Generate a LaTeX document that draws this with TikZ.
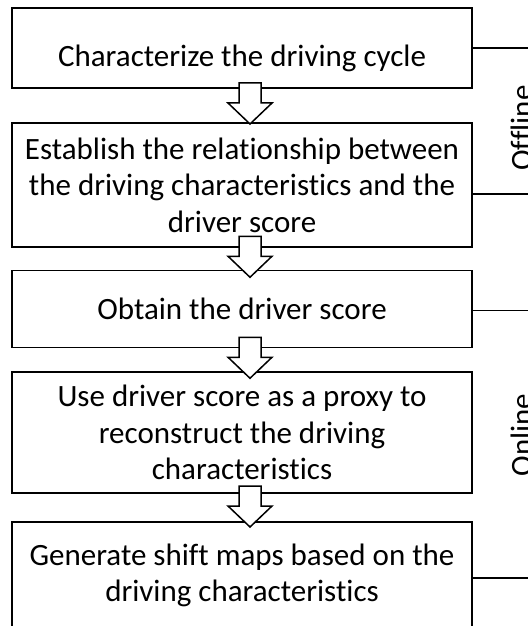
\documentclass[tikz,border=0pt]{standalone}
\usepackage{fontspec}
\setmainfont{Carlito}[Ligatures=NoCommon]
\usetikzlibrary{calc}

\tikzset{
  stepbox/.style={draw=black, line width=1.5bp, fill=white, minimum width=460bp,
    align=center, inner sep=0pt, font=\fontsize{31bp}{36.5bp}\selectfont},
  blockarrow/.style={draw=black, line width=1.5bp, fill=white, line join=miter},
  tieline/.style={draw=black, line width=1.5bp},
  phase/.style={rotate=90, anchor=base, inner sep=0pt, font=\fontsize{31bp}{36.5bp}\selectfont}
}

% hollow downward block arrow centred on a named coordinate
\newcommand\hollowdown[1]{%
  \draw[blockarrow] ($(#1)+(-11,20.5)$) -- ($(#1)+(-11,0.5)$) -- ($(#1)+(-22,0.5)$)
    -- ($(#1)+(0,-20.5)$) -- ($(#1)+(22,0.5)$) -- ($(#1)+(11,0.5)$)
    -- ($(#1)+(11,20.5)$) -- cycle;}

\begin{document}
\begin{tikzpicture}[x=1bp, y=1bp]
  \useasboundingbox (0,0) rectangle (528,-626);
  \clip (0,0) rectangle (528,-626);
  \fill[white] (0,0) rectangle (528,-626);

  % process steps
  \node[stepbox, minimum height=80bp, text height=38bp, text depth=0pt] (b1) at (242,-48)
    {Characterize the driving cycle};
  \node[stepbox, minimum height=124bp] (b2) at (242,-185)
    {Establish the relationship between\\the driving characteristics and the\\driver score};
  \node[stepbox, minimum height=77bp] (b3) at (242,-309)
    {Obtain the driver score};
  \node[stepbox, minimum height=121bp] (b4) at (242,-432.5)
    {Use driver score as a proxy to\\reconstruct the driving\\characteristics};
  \node[stepbox, minimum height=107bp] (b5) at (242,-575.5)
    {Generate shift maps based on the\\driving characteristics};

  % block arrows between consecutive steps
  \coordinate (a1) at ($(b1.south)!0.5!(b2.north)+(8,2)$);
  \coordinate (a2) at ($(b2.south)!0.5!(b3.north)+(8,2)$);
  \coordinate (a3) at ($(b3.south)!0.5!(b4.north)+(8,2)$);
  \coordinate (a4) at ($(b4.south)!0.5!(b5.north)+(8,1)$);
  \hollowdown{a1}
  \hollowdown{a2}
  \hollowdown{a3}
  \hollowdown{a4}

  % bracket lines to the phase labels
  \coordinate (r1) at (528,-48);
  \coordinate (r2) at (528,-194);
  \coordinate (r3) at (528,-310.5);
  \coordinate (r4) at (528,-578);
  \draw[tieline] (b1.east |- r1) -- (r1);
  \draw[tieline] (b2.east |- r2) -- (r2);
  \draw[tieline] (b3.east |- r3) -- (r3);
  \draw[tieline] (b5.east |- r4) -- (r4);

  % phase labels
  \node[phase] (offline) at (532,-128) {Offline};
  \node[phase] (online) at (532,-435) {Online};
\end{tikzpicture}
\end{document}
